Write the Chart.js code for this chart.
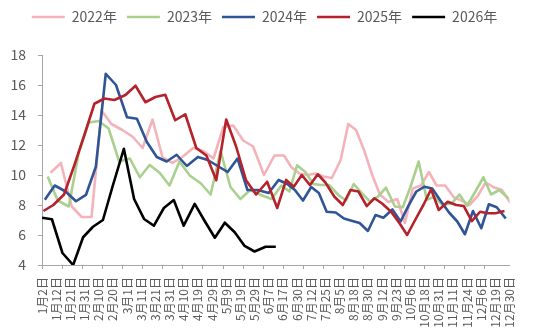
<!DOCTYPE html>
<html>
<head>
<meta charset="utf-8">
<script src="https://cdn.jsdelivr.net/npm/chart.js@4"></script>
<style>
  html, body { margin: 0; padding: 0; background: #fff; }
  #wrap { width: 536px; height: 329px; }
</style>
</head>
<body>
<div id="wrap"><canvas id="c"></canvas></div>
<script>
Chart.defaults.font.family = '"Noto Sans CJK SC", "Noto Sans", sans-serif';
Chart.defaults.color = "#595959";

// x axis labels and the day of year each one stands for
const X_LABELS = ["1月2日", "1月12日", "1月21日", "1月31日", "2月10日", "2月20日", "3月1日", "3月11日",
    "3月21日", "3月31日", "4月10日", "4月19日", "4月29日", "5月9日", "5月19日", "5月29日", "6月7日",
    "6月17日", "6月30日", "7月12日", "7月25日", "8月5日", "8月18日", "8月30日", "9月12日", "9月23日",
    "10月6日", "10月18日", "10月31日", "11月11日", "11月24日", "12月6日", "12月19日", "12月30日"];
const LABEL_DAYS = [2, 12, 21, 31, 41, 51, 60, 70, 80, 90, 100, 109, 119, 129, 139, 149, 158,
    168, 181, 193, 206, 217, 230, 242, 255, 266, 279, 291, 304, 315, 328, 340, 353, 364];

// weekly readings, first reading day of each year
const START_2022 = 8, START_2023 = 6, START_2024 = 4, START_2025 = 3, START_2026 = 2;

const V2022 = [10.15, 10.8, 7.9, 7.2, 7.2, 14.3, 13.4, 13.0, 12.55, 11.8,
    13.7, 11.2, 10.8, 11.2, 11.8, 11.6, 11.1, 13.2, 13.3, 12.3,
    11.9, 10.0, 11.3, 11.3, 10.5, 10.1, 10.0, 10.1, 9.9, 9.8,
    11.0, 13.4, 13.0, 11.6, 10.0, 8.7, 8.2, 8.4, 6.8, 9.1,
    9.3, 10.2, 9.3, 9.3, 8.5, 8.3, 8.0, 8.6, 9.5, 9.2,
    9.0, 8.1];
const V2023 = [9.9, 8.3, 7.9, 11.5, 13.5, 13.6, 13.1, 10.9, 11.1, 9.85,
    10.67, 10.15, 9.3, 10.9, 9.95, 9.45, 8.7, 11.6, 9.2, 8.4,
    9.0, 8.67, 8.4, 9.3, 8.9, 10.65, 10.2, 9.4, 9.33, 9.33,
    8.67, 8.3, 9.4, 8.78, 8.22, 8.55, 9.15, 7.9, 7.85, 9.2,
    10.9, 8.35, 8.55, 8.0, 8.1, 8.7, 7.95, 8.9, 9.85, 8.7,
    9.0, 8.45];
const V2024 = [8.35, 9.3, 8.9, 8.25, 8.67, 10.55, 16.75, 16.0, 13.85, 13.75,
    12.2, 11.2, 10.9, 11.35, 10.6, 11.2, 11.0, 10.6, 10.2, 11.1,
    9.0, 9.0, 8.8, 9.67, 9.4, 9.0, 8.3, 9.2, 8.8, 7.55,
    7.5, 7.1, 6.95, 6.8, 6.27, 7.33, 7.15, 7.7, 6.9, 7.93,
    8.9, 9.22, 9.1, 8.33, 7.5, 6.9, 6.05, 7.6, 6.45, 8.05,
    7.85, 7.1];
const V2025 = [7.6, 8.0, 8.7, 10.7, 12.7, 14.75, 15.1, 15.0, 15.33, 15.95,
    14.85, 15.2, 15.35, 13.65, 14.05, 11.8, 11.3, 9.65, 13.7, 11.9,
    9.65, 8.7, 9.55, 7.8, 9.67, 9.22, 10.0, 9.33, 10.05, 9.5,
    8.55, 8.0, 9.0, 8.9, 7.93, 8.45, 8.1, 7.55, 6.78, 6.0,
    7.0, 8.0, 9.05, 7.67, 8.22, 8.0, 7.93, 6.93, 7.55, 7.45,
    7.45, 7.6];
const V2026 = [7.15, 7.05, 4.8, 4.0, 5.85, 6.55, 7.0, 9.3, 11.75, 8.4,
    7.07, 6.62, 7.8, 8.33, 6.62, 8.07, 6.9, 5.82, 6.82, 6.18,
    5.27, 4.9, 5.22, 5.22];

// day of year -> position on the label axis
function dayToIndex(d) {
    for (let i = 1; i < LABEL_DAYS.length; i++) {
        if (d <= LABEL_DAYS[i]) {
            return i - 1 + (d - LABEL_DAYS[i - 1]) / (LABEL_DAYS[i] - LABEL_DAYS[i - 1]);
        }
    }
    const n = LABEL_DAYS.length - 1;
    return n + (d - LABEL_DAYS[n]) / (LABEL_DAYS[n] - LABEL_DAYS[n - 1]);
}

function weekly(start, values) {
    return values.map((y, k) => ({ x: dayToIndex(start + 7 * k), y }));
}

function line(label, data, color, order) {
    return {
        label, data, order,
        borderColor: color,
        backgroundColor: color,
        borderWidth: 2.6,
        pointRadius: 0,
        tension: 0,
        borderJoinStyle: "round",
    };
}

const AXIS = "#a6a6a6";
const TICK_STEP = 1.42;   // tick marks run on their own spacing, not on the labels

// legend sits in a fixed band above the plot
const legendBand = {
    id: "legendBand",
    beforeInit(chart) {
        const fit = chart.legend.fit;
        chart.legend.fit = function () {
            fit.call(this);
            this.height = 55;
        };
    },
};

new Chart(document.getElementById("c"), {
    type: "line",
    data: {
        datasets: [
            line("2022年", weekly(START_2022, V2022), "#F4B3BA", 5),
            line("2023年", weekly(START_2023, V2023), "#A9D08E", 4),
            line("2024年", weekly(START_2024, V2024), "#2F5597", 3),
            line("2025年", weekly(START_2025, V2025), "#B5222B", 2),
            line("2026年", weekly(START_2026, V2026), "#000000", 1),
        ],
    },
    options: {
        responsive: true,
        maintainAspectRatio: false,
        animation: false,
        layout: { padding: { left: 0, right: 7, top: 0, bottom: 0 } },
        plugins: {
            tooltip: { enabled: false },
            legend: {
                position: "top",
                labels: {
                    usePointStyle: true,
                    pointStyle: "line",
                    pointStyleWidth: 33,
                    boxHeight: 14,
                    padding: 10,
                    color: "#595959",
                    font: { size: 14 },
                    sort: (a, b) => a.datasetIndex - b.datasetIndex,
                },
            },
        },
        scales: {
            x: {
                type: "linear",
                min: 0,
                max: X_LABELS.length - 1,
                afterFit: s => { s.height = 64; },
                afterBuildTicks: s => { s.ticks = X_LABELS.map((_, i) => ({ value: i })); },
                ticks: {
                    autoSkip: false,
                    minRotation: 90,
                    maxRotation: 90,
                    padding: 12,
                    color: "#595959",
                    font: { size: 12 },
                    callback: v => X_LABELS[v],
                },
                grid: { drawOnChartArea: false, tickLength: 0, color: AXIS },
                border: { color: AXIS, width: 1 },
            },
            xt: {
                type: "linear",
                position: "bottom",
                weight: -1,
                min: 0,
                max: X_LABELS.length - 1,
                afterFit: s => { s.height = 0; },
                afterBuildTicks: s => {
                    const t = [];
                    for (let v = 0; v <= s.max - 0.5; v += TICK_STEP) t.push({ value: v });
                    s.ticks = t;
                },
                ticks: { display: false },
                grid: { drawOnChartArea: false, tickLength: 4, color: AXIS },
                border: { display: false },
            },
            y: {
                min: 4,
                max: 18,
                afterFit: s => { s.width = 42; },
                ticks: { stepSize: 2, padding: 12, color: "#595959", font: { size: 14 } },
                grid: { drawOnChartArea: false, tickLength: 4, color: AXIS },
                border: { color: AXIS, width: 1 },
            },
        },
    },
    plugins: [legendBand],
});
</script>
</body>
</html>
